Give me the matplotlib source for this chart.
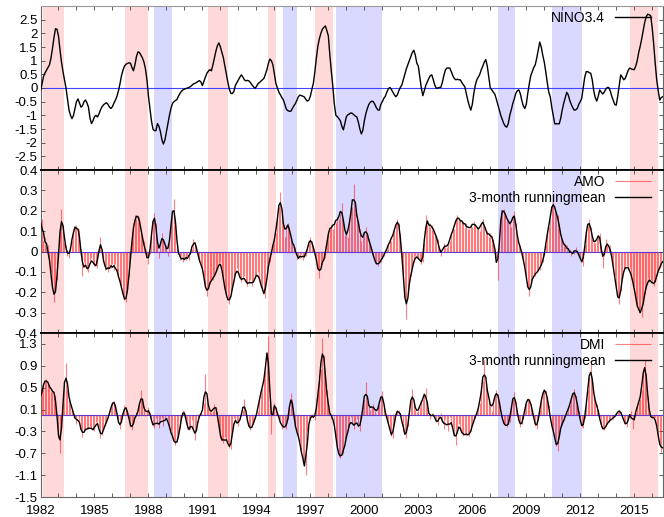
import numpy as np
import pandas as pd
import matplotlib
matplotlib.use("Agg")
import matplotlib.pyplot as plt
from matplotlib.ticker import FixedLocator, FuncFormatter

plt.rcParams['font.family'] = ['Liberation Sans', 'DejaVu Sans']
plt.rcParams['axes.unicode_minus'] = False
plt.rcParams['font.size'] = 9.5

start_year = 1982  # monthly series from Jan 1982

nino34 = [
    -0.13, 0.15, 0.42, 0.55, 0.65, 0.75, 0.85, 1.10, 1.45, 1.85, 2.17, 2.15,  # 1982
    1.90, 1.40, 0.95, 0.60, 0.30, 0.00, -0.40, -0.80, -1.00, -1.12, -1.00, -0.75,  # 1983
    -0.50, -0.40, -0.55, -0.70, -0.65, -0.50, -0.44, -0.55, -0.70, -1.10, -1.30, -1.20,  # 1984
    -1.05, -1.00, -1.06, -0.95, -0.80, -0.69, -0.62, -0.57, -0.54, -0.60, -0.70, -0.75,  # 1985
    -0.68, -0.55, -0.44, -0.30, -0.10, 0.15, 0.45, 0.65, 0.80, 0.87, 0.90, 0.92,  # 1986
    0.91, 0.75, 0.63, 0.85, 1.15, 1.32, 1.30, 1.20, 1.10, 0.95, 0.70, 0.30,  # 1987
    -0.30, -0.75, -1.20, -1.50, -1.56, -1.56, -1.30, -1.40, -1.60, -1.90, -2.05, -1.90,  # 1988
    -1.60, -1.30, -1.00, -0.75, -0.57, -0.50, -0.46, -0.42, -0.30, -0.20, -0.12, -0.07,  # 1989
    -0.04, -0.02, 0.00, 0.02, 0.05, 0.10, 0.15, 0.17, 0.20, 0.24, 0.27, 0.22,  # 1990
    0.09, 0.25, 0.40, 0.54, 0.62, 0.67, 0.63, 0.85, 1.10, 1.35, 1.55, 1.65,  # 1991
    1.50, 1.30, 1.10, 0.80, 0.50, 0.20, -0.05, -0.20, -0.20, -0.12, 0.10, 0.20,  # 1992
    0.30, 0.40, 0.48, 0.40, 0.30, 0.26, 0.28, 0.26, 0.20, 0.12, 0.05, -0.01,  # 1993
    0.05, 0.15, 0.20, 0.25, 0.30, 0.35, 0.50, 0.67, 0.90, 1.06, 1.00, 0.85,  # 1994
    0.50, 0.17, 0.00, -0.15, -0.25, -0.35, -0.44, -0.60, -0.78, -0.83, -0.85, -0.85,  # 1995
    -0.75, -0.65, -0.57, -0.45, -0.32, -0.26, -0.28, -0.30, -0.33, -0.42, -0.48, -0.44,  # 1996
    -0.30, -0.05, 0.17, 0.60, 1.10, 1.53, 1.80, 2.00, 2.15, 2.22, 2.27, 2.10,  # 1997
    1.90, 1.20, 0.60, 0.05, -0.60, -1.00, -1.05, -1.12, -1.20, -1.40, -1.53, -1.30,  # 1998
    -1.05, -0.98, -0.95, -0.91, -0.93, -0.98, -1.03, -1.06, -1.25, -1.50, -1.68, -1.55,  # 1999
    -1.20, -0.94, -0.75, -0.60, -0.52, -0.48, -0.50, -0.60, -0.72, -0.80, -0.81, -0.60,  # 2000
    -0.50, -0.38, -0.30, -0.15, -0.03, 0.02, -0.05, -0.15, -0.25, -0.32, -0.25, -0.10,  # 2001
    0.02, 0.11, 0.30, 0.50, 0.70, 0.85, 1.00, 1.15, 1.30, 1.38, 1.20, 0.91,  # 2002
    0.80, 0.40, 0.00, -0.28, -0.10, 0.10, 0.23, 0.35, 0.45, 0.48, 0.30, 0.10,  # 2003
    -0.01, 0.00, 0.02, 0.02, 0.20, 0.45, 0.65, 0.73, 0.73, 0.73, 0.60, 0.45,  # 2004
    0.35, 0.30, 0.32, 0.30, 0.30, 0.20, 0.12, 0.05, -0.20, -0.45, -0.65, -0.81,  # 2005
    -0.60, -0.20, 0.10, 0.30, 0.40, 0.50, 0.67, 0.80, 0.95, 1.04, 0.80, 0.40,  # 2006
    0.00, -0.07, -0.15, -0.22, -0.40, -0.60, -0.80, -1.00, -1.15, -1.30, -1.40, -1.43,  # 2007
    -1.30, -1.00, -0.80, -0.57, -0.40, -0.20, -0.10, -0.07, -0.20, -0.45, -0.65, -0.75,  # 2008
    -0.60, -0.20, 0.15, 0.45, 0.60, 0.75, 0.85, 1.10, 1.40, 1.68, 1.50, 1.20,  # 2009
    0.95, 0.60, 0.20, -0.15, -0.32, -0.70, -1.00, -1.31, -1.31, -1.31, -1.31, -1.10,  # 2010
    -0.80, -0.55, -0.35, -0.16, -0.25, -0.45, -0.60, -0.72, -0.81, -0.80, -0.75, -0.60,  # 2011
    -0.50, -0.38, 0.00, 0.40, 0.60, 0.60, 0.56, 0.54, 0.30, -0.10, -0.35, -0.48,  # 2012
    -0.30, -0.07, -0.15, -0.22, -0.15, -0.05, 0.02, 0.02, -0.10, -0.30, -0.45, -0.60,  # 2013
    -0.63, -0.30, 0.10, 0.48, 0.40, 0.30, 0.35, 0.50, 0.65, 0.73, 0.70, 0.68,  # 2014
    0.67, 0.80, 1.00, 1.30, 1.53, 1.80, 2.10, 2.40, 2.60, 2.70, 2.68, 2.64,  # 2015
    2.20, 1.60, 0.91, 0.30, -0.10, -0.44, -0.35, -0.32,  # 2016
]

amo = [
    0.13, 0.16, 0.05, 0.07, 0.02, 0.03, -0.06, -0.10, -0.18, -0.25, -0.20, -0.14,  # 1982
    -0.02, 0.10, 0.21, 0.13, 0.04, 0.03, -0.02, -0.03, 0.02, 0.05, 0.11, 0.12,  # 1983
    0.13, 0.09, 0.11, 0.01, -0.12, -0.05, -0.06, -0.09, -0.10, -0.05, -0.03, -0.06,  # 1984
    -0.07, -0.06, -0.08, 0.02, 0.07, 0.01, -0.05, -0.09, -0.07, -0.10, -0.07, -0.08,  # 1985
    -0.06, -0.09, -0.06, -0.10, -0.12, -0.15, -0.17, -0.21, -0.24, -0.25, -0.20, -0.12,  # 1986
    -0.03, 0.05, 0.12, 0.18, 0.16, 0.18, 0.17, 0.10, 0.06, 0.05, -0.01, -0.02,  # 1987
    -0.06, -0.01, 0.09, 0.16, 0.19, 0.14, 0.03, -0.03, 0.05, 0.09, 0.05, 0.03,  # 1988
    0.03, -0.02, 0.04, 0.14, 0.19, 0.26, 0.15, 0.03, -0.01, -0.04, -0.02, -0.05,  # 1989
    -0.03, -0.04, -0.02, -0.04, 0.00, 0.01, 0.06, 0.04, 0.03, -0.02, -0.05, -0.06,  # 1990
    -0.08, -0.12, -0.18, -0.22, -0.17, -0.16, -0.13, -0.14, -0.12, -0.10, -0.09, -0.06,  # 1991
    -0.05, -0.08, -0.14, -0.19, -0.21, -0.24, -0.26, -0.21, -0.19, -0.14, -0.11, -0.08,  # 1992
    -0.10, -0.13, -0.15, -0.13, -0.12, -0.15, -0.17, -0.15, -0.14, -0.17, -0.15, -0.13,  # 1993
    -0.12, -0.10, -0.14, -0.16, -0.19, -0.20, -0.23, -0.11, -0.06, -0.05, 0.00, 0.03,  # 1994
    0.06, 0.09, 0.17, 0.22, 0.29, 0.21, 0.13, 0.07, 0.13, 0.14, 0.12, 0.06,  # 1995
    0.05, 0.02, 0.02, -0.04, -0.03, -0.03, -0.01, -0.04, -0.02, -0.02, 0.02, 0.04,  # 1996
    0.07, 0.05, 0.01, 0.00, -0.04, -0.08, -0.13, -0.07, -0.06, -0.03, -0.03, 0.05,  # 1997
    0.10, 0.11, 0.13, 0.11, 0.15, 0.14, 0.17, 0.16, 0.19, 0.24, 0.14, 0.08,  # 1998
    0.10, 0.07, 0.14, 0.21, 0.22, 0.33, 0.21, 0.18, 0.14, 0.11, 0.05, 0.07,  # 1999
    0.09, 0.12, 0.08, 0.06, 0.03, 0.01, -0.02, -0.05, -0.06, -0.07, -0.05, -0.05,  # 2000
    -0.03, -0.02, 0.00, 0.01, 0.03, 0.06, 0.05, 0.09, 0.10, 0.13, 0.16, 0.14,  # 2001
    0.09, -0.03, -0.11, -0.23, -0.33, -0.21, -0.15, -0.12, -0.08, -0.05, -0.02, -0.03,  # 2002
    -0.03, -0.04, -0.06, -0.05, 0.04, 0.18, 0.13, 0.14, 0.12, 0.13, 0.11, 0.09,  # 2003
    0.07, 0.06, 0.01, -0.02, 0.00, 0.04, 0.02, 0.02, 0.04, 0.05, 0.09, 0.11,  # 2004
    0.11, 0.16, 0.18, 0.15, 0.16, 0.14, 0.15, 0.12, 0.14, 0.11, 0.11, 0.13,  # 2005
    0.12, 0.15, 0.13, 0.11, 0.12, 0.10, 0.14, 0.16, 0.13, 0.09, 0.10, 0.07,  # 2006
    0.09, 0.07, 0.06, 0.01, -0.03, -0.14, 0.06, 0.19, 0.20, 0.21, 0.18, 0.16,  # 2007
    0.15, 0.14, 0.12, 0.18, 0.20, 0.14, 0.06, 0.04, 0.03, -0.01, -0.04, -0.07,  # 2008
    -0.12, -0.18, -0.22, -0.16, -0.14, -0.11, -0.12, -0.10, -0.09, -0.09, -0.06, -0.05,  # 2009
    -0.02, 0.03, 0.10, 0.12, 0.16, 0.23, 0.26, 0.20, 0.19, 0.18, 0.12, 0.08,  # 2010
    0.05, 0.04, 0.02, 0.03, 0.00, 0.01, -0.02, 0.00, -0.01, 0.02, 0.00, -0.02,  # 2011
    -0.03, -0.05, -0.07, 0.03, 0.11, 0.13, 0.16, 0.12, 0.06, 0.05, 0.04, 0.06,  # 2012
    0.08, 0.09, 0.03, -0.08, -0.02, 0.06, 0.03, 0.02, 0.03, -0.03, -0.08, -0.12,  # 2013
    -0.18, -0.23, -0.26, -0.19, -0.13, -0.09, -0.08, -0.07, -0.09, -0.08, -0.12, -0.15,  # 2014
    -0.17, -0.23, -0.27, -0.30, -0.28, -0.32, -0.24, -0.21, -0.18, -0.13, -0.15, -0.14,  # 2015
    -0.15, -0.17, -0.15, -0.12, -0.09, -0.08, -0.07, -0.03,  # 2016
]

dmi = [
    0.22, 0.46, 0.58, 0.62, 0.66, 0.58, 0.55, 0.42, 0.48, 0.40, 0.36, 0.02,  # 1982
    -0.42, -0.70, -0.25, 0.22, 0.62, 0.95, 0.45, 0.33, 0.22, 0.10, 0.05, -0.06,  # 1983
    -0.16, -0.02, -0.12, -0.27, -0.40, -0.28, -0.27, -0.24, -0.26, -0.22, -0.25, -0.26,  # 1984
    -0.30, -0.12, -0.13, -0.22, -0.42, -0.36, -0.25, -0.21, -0.12, -0.06, 0.02, 0.14,  # 1985
    0.24, 0.25, 0.20, 0.02, -0.14, -0.26, -0.13, 0.02, 0.18, 0.12, 0.10, -0.07,  # 1986
    -0.22, -0.28, -0.13, -0.06, 0.05, -0.02, 0.18, 0.45, 0.25, 0.17, -0.02, 0.07,  # 1987
    0.14, 0.02, -0.10, -0.20, -0.24, -0.05, -0.17, -0.23, -0.10, -0.05, -0.20, -0.07,  # 1988
    -0.02, -0.10, -0.26, -0.28, -0.42, -0.46, -0.55, -0.50, -0.42, -0.24, -0.06, 0.10,  # 1989
    0.07, -0.07, -0.25, -0.28, -0.26, -0.10, -0.27, -0.45, -0.28, -0.12, 0.02, 0.03,  # 1990
    0.02, 0.22, 0.75, 0.30, 0.12, 0.10, 0.04, 0.07, 0.20, 0.12, 0.08, -0.24,  # 1991
    -0.42, -0.44, -0.52, -0.40, -0.46, -0.50, -0.60, -0.62, -0.32, -0.06, -0.12, -0.12,  # 1992
    -0.20, -0.08, 0.02, 0.10, 0.30, 0.04, -0.12, -0.21, -0.28, -0.22, -0.16, -0.08,  # 1993
    0.02, 0.08, 0.32, 0.42, 0.48, 0.66, 0.80, 1.15, 1.45, 0.25, -0.35, 0.15,  # 1994
    0.22, 0.14, 0.02, -0.06, -0.10, -0.26, -0.20, -0.20, -0.25, -0.08, 0.12, 0.40,  # 1995
    0.30, -0.08, -0.22, -0.30, -0.40, -0.48, -0.68, -0.88, -0.82, -1.10, -0.30, -0.15,  # 1996
    -0.05, 0.02, -0.04, -0.10, 0.12, 0.38, 0.60, 0.85, 1.40, 1.10, 0.65, 0.45,  # 1997
    0.12, 0.03, -0.08, 0.02, -0.18, -0.42, -0.60, -0.76, -0.78, -0.70, -0.72, -0.52,  # 1998
    -0.42, -0.28, -0.22, -0.04, -0.16, -0.26, -0.14, -0.08, -0.22, -0.30, -0.04, 0.16,  # 1999
    0.28, 0.60, 0.25, 0.18, 0.10, 0.14, 0.20, 0.08, 0.02, 0.14, 0.18, 0.36,  # 2000
    0.44, 0.18, 0.02, -0.06, -0.12, -0.28, -0.38, -0.42, -0.12, 0.05, 0.06, 0.10,  # 2001
    -0.02, -0.02, -0.30, -0.34, -0.42, -0.20, 0.06, 0.26, 0.48, 0.25, 0.10, 0.05,  # 2002
    0.10, 0.14, 0.26, 0.30, 0.34, 0.50, 0.14, 0.04, -0.08, 0.04, 0.00, -0.04,  # 2003
    -0.12, -0.18, -0.04, 0.04, -0.12, -0.25, -0.08, -0.16, -0.30, -0.04, -0.16, -0.22,  # 2004
    -0.36, -0.55, -0.24, -0.16, -0.26, -0.32, -0.38, -0.34, -0.36, -0.35, -0.38, -0.30,  # 2005
    -0.20, -0.08, -0.06, 0.04, 0.12, 0.22, 0.46, 0.62, 1.00, 0.58, 0.50, 0.28,  # 2006
    0.20, 0.08, 0.22, 0.34, 0.45, 0.38, 0.26, 0.08, -0.10, -0.16, -0.18, -0.22,  # 2007
    -0.16, -0.12, 0.16, 0.30, 0.42, 0.24, 0.04, -0.10, -0.22, -0.16, -0.08, 0.12,  # 2008
    0.22, 0.32, 0.30, 0.20, 0.10, -0.04, -0.20, -0.26, -0.08, 0.10, 0.26, 0.42,  # 2009
    0.48, 0.46, 0.30, 0.18, -0.08, -0.20, -0.28, -0.40, -0.56, -0.66, -0.34, -0.20,  # 2010
    -0.18, -0.10, -0.02, 0.04, 0.12, 0.18, 0.28, 0.40, 0.48, 0.34, 0.20, 0.08,  # 2011
    -0.12, -0.22, -0.24, -0.06, 0.20, 0.46, 0.70, 1.00, 0.64, 0.34, 0.26, 0.20,  # 2012
    0.06, -0.04, -0.22, -0.26, -0.28, -0.20, -0.16, -0.12, -0.10, -0.06, -0.07, -0.02,  # 2013
    0.00, 0.06, 0.10, 0.06, -0.02, -0.10, -0.16, -0.22, -0.08, 0.02, 0.08, -0.26,  # 2014
    -0.04, 0.04, 0.16, 0.24, 0.30, 0.46, 0.84, 1.00, 0.76, 0.34, 0.02, -0.04,  # 2015
    -0.06, -0.04, -0.04, -0.20, -0.36, -0.56, -0.68, -0.52,  # 2016
]

# shaded ENSO episodes (decimal years)
elnino_start = [1982.15, 1986.67, 1991.33, 1994.67, 1997.26, 2014.78]
elnino_end = [1983.33, 1988.00, 1992.43, 1995.09, 1998.26, 2016.30]
lanina_start = [1988.33, 1995.50, 1998.40, 2007.44, 2010.43]
lanina_end = [1989.33, 1996.26, 2000.98, 2008.37, 2012.10]

t = start_year + np.arange(len(nino34)) / 12.0
amo_rm = pd.Series(amo).rolling(3, center=True, min_periods=1).mean()
dmi_rm = pd.Series(dmi).rolling(3, center=True, min_periods=1).mean()

fig = plt.figure(figsize=(6.64, 5.17), dpi=100)
left, width = 40.5 / 664, 622.5 / 664
ax1 = fig.add_axes([left, 347 / 517, width, 164 / 517])
ax2 = fig.add_axes([left, 184 / 517, width, 163 / 517])
ax3 = fig.add_axes([left, 20 / 517, width, 164 / 517])

fmt = FuncFormatter(lambda v, p: '%g' % (round(v, 2) + 0.0))
years = np.arange(1982, 2017)

for ax in (ax1, ax2, ax3):
    for s, e in zip(elnino_start, elnino_end):
        ax.axvspan(s, e, color='#ffd9d9', lw=0, zorder=0)
    for s, e in zip(lanina_start, lanina_end):
        ax.axvspan(s, e, color='#d9d9ff', lw=0, zorder=0)
    ax.axhline(0, color='#4444ff', lw=0.8, zorder=1)
    ax.set_xlim(1982, 2016.6)
    ax.xaxis.set_major_locator(FixedLocator(years[::3]))
    ax.xaxis.set_minor_locator(FixedLocator(years))
    ax.yaxis.set_major_formatter(fmt)
    ax.tick_params(which='both', direction='in', top=True, right=True,
                   length=3, width=0.6, color='#444444', labelsize=9.5, pad=2)
    ax.tick_params(axis='x', pad=6)
    for sp in ax.spines.values():
        sp.set_color('#666666')
        sp.set_linewidth(0.8)

# NINO3.4
ax1.plot(t, nino34, color='black', lw=1.0, label='NINO3.4', zorder=3)
ax1.set_ylim(-3, 3)
ax1.yaxis.set_major_locator(FixedLocator(np.arange(-2.5, 2.51, 0.5)))
ax1.tick_params(labelbottom=False)
ax1.spines['top'].set_color('#999999')
ax1.spines['bottom'].set_color('black')
ax1.spines['bottom'].set_linewidth(1.3)

# AMO
ax2.vlines(t, 0, amo, color='#ff0000', lw=0.8, alpha=0.5, label='AMO', zorder=2)
ax2.plot(t, amo_rm, color='black', lw=1.0, label='3-month runningmean', zorder=3)
ax2.set_ylim(-0.4, 0.4)
ax2.yaxis.set_major_locator(FixedLocator(np.arange(-0.4, 0.41, 0.1)))
ax2.tick_params(labelbottom=False)
ax2.spines['top'].set_color('black')
ax2.spines['top'].set_linewidth(1.3)
ax2.spines['bottom'].set_color('black')
ax2.spines['bottom'].set_linewidth(1.3)

# DMI
ax3.vlines(t, 0, dmi, color='#ff0000', lw=0.8, alpha=0.5, label='DMI', zorder=2)
ax3.plot(t, dmi_rm, color='black', lw=1.0, label='3-month runningmean', zorder=3)
ax3.set_ylim(-1.5, 1.5)
ax3.yaxis.set_major_locator(FixedLocator(np.arange(-1.5, 1.31, 0.4)))
ax3.spines['top'].set_color('black')
ax3.spines['top'].set_linewidth(1.3)

for ax in (ax1, ax2, ax3):
    leg = ax.legend(loc='upper right', bbox_to_anchor=(0.985, 0.985),
                    frameon=False, markerfirst=False, handlelength=2.6,
                    handletextpad=0.7, labelspacing=0.1, borderpad=0.2,
                    borderaxespad=0, fontsize=10)

fig.savefig('out.png', dpi=100)
